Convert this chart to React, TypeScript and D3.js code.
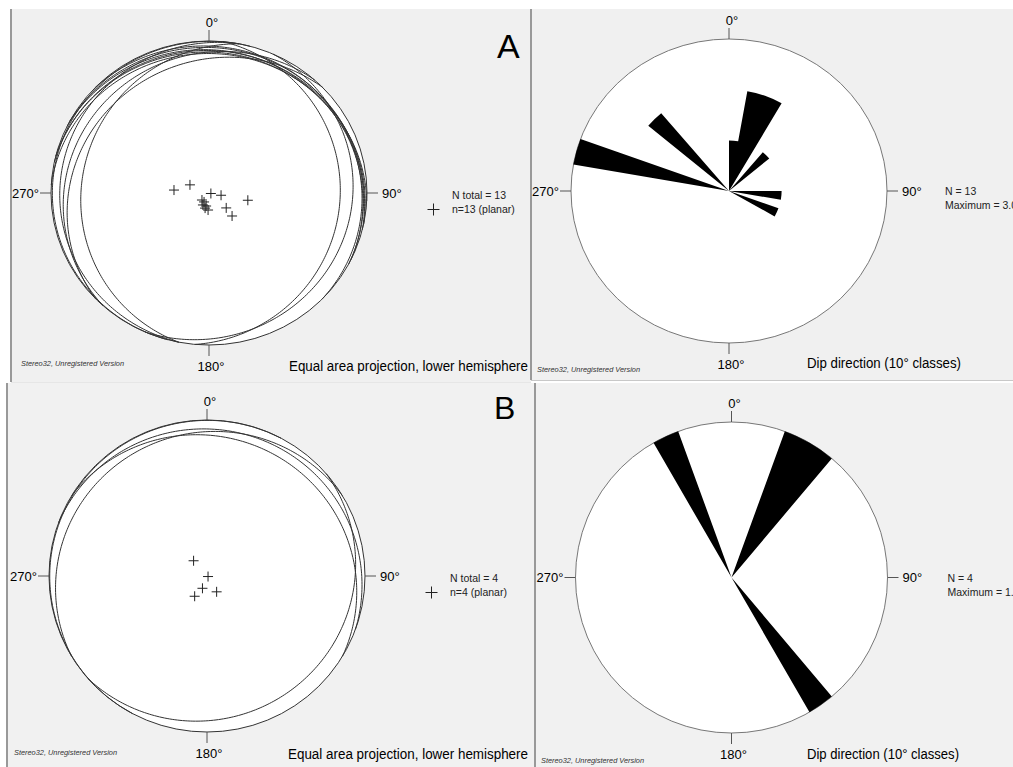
import * as d3 from 'd3'

// Set A: 13 planes, dip direction / dip in degrees
const dipDirA = [95, 114, 285, 281, 281, 44, 28, 26, 12, 14, 3, 312, 316]
const dipA = [18.1, 10.7, 1.0, 6.3, 20.4, 5.2, 5.4, 7.1, 7.1, 8.3, 9.1, 11.9, 17.1]

// Set B
const dipDirB = [139, 20, 31, 329, 298]
const dipB = [10.5, 6.8, 12.3, 9.6, 0.6]

// rose diagrams: start of each 10° class and its count
const roseClassA = [0, 10, 20, 40, 90, 110, 280, 310]
const roseCountA = [1, 2, 2, 1, 1, 1, 3, 2]
const roseMaxA = 3
const roseClassB = [20, 30, 140, 330]
const roseCountB = [1, 1, 1, 1]
const roseMaxB = 1

const compassLabels = ['0°', '90°', '180°', '270°']

const FONT = "'Liberation Sans', Arial, sans-serif"
const rad = Math.PI / 180

// equal area, lower hemisphere, unit primitive
function project(trend: number, plunge: number): [number, number] {
  const r = Math.SQRT2 * Math.sin(((90 - plunge) * rad) / 2)
  return [r * Math.sin(trend * rad), r * Math.cos(trend * rad)]
}

function greatCircle(dd: number, dip: number): [number, number][] {
  const s = (dd - 90) * rad
  const sv = [Math.sin(s), Math.cos(s), 0]
  const dv = [Math.cos(dip * rad) * Math.sin(dd * rad), Math.cos(dip * rad) * Math.cos(dd * rad), Math.sin(dip * rad)]
  return d3.range(0, 180.5, 1).map(a => {
    const c = Math.cos(a * rad), sn = Math.sin(a * rad)
    const e = c * sv[0] + sn * dv[0]
    const n = c * sv[1] + sn * dv[1]
    const d = c * sv[2] + sn * dv[2]
    const plunge = Math.asin(Math.max(-1, Math.min(1, d))) / rad
    const trend = Math.atan2(e, n) / rad
    return project(trend, plunge)
  })
}

interface FrameProps { cx: number; cy: number; rx: number; ry: number; stroke: string }

function Compass({ cx, cy, rx, ry, stroke }: FrameProps) {
  const t = 11
  return (
    <g fontFamily={FONT} fontSize={13} fill="#000">
      <ellipse cx={cx} cy={cy} rx={rx} ry={ry} fill="#fff" stroke={stroke} strokeWidth={1} />
      <g stroke="#555" strokeWidth={1}>
        <line x1={cx} x2={cx} y1={cy - ry - t} y2={cy - ry} />
        <line x1={cx} x2={cx} y1={cy + ry} y2={cy + ry + t} />
        <line x1={cx - rx - t} x2={cx - rx} y1={cy} y2={cy} />
        <line x1={cx + rx} x2={cx + rx + t} y1={cy} y2={cy} />
      </g>
      <text x={cx + 3} y={cy - ry - 14} textAnchor="middle">{compassLabels[0]}</text>
      <text x={cx + rx + t + 4} y={cy + 4.5}>{compassLabels[1]}</text>
      <text x={cx + 2} y={cy + ry + 26} textAnchor="middle">{compassLabels[2]}</text>
      <text x={cx - rx - t - 1} y={cy + 4.5} textAnchor="end">{compassLabels[3]}</text>
    </g>
  )
}

function Cross({ x, y, s = 5 }: { x: number; y: number; s?: number }) {
  return (
    <g stroke="#222" strokeWidth={1}>
      <line x1={x - s} x2={x + s} y1={y} y2={y} />
      <line x1={x} x2={x} y1={y - s} y2={y + s} />
    </g>
  )
}

interface StereoProps extends FrameProps { dipDir: number[]; dip: number[]; total: number }

function Stereonet({ cx, cy, rx, ry, dipDir, dip, total }: StereoProps) {
  const x = d3.scaleLinear().domain([-1, 1]).range([cx - rx, cx + rx])
  const y = d3.scaleLinear().domain([-1, 1]).range([cy + ry, cy - ry])
  const line = d3.line<[number, number]>().x(d => x(d[0])).y(d => y(d[1]))
  const poles = dipDir.map((dd, i) => project((dd + 180) % 360, 90 - dip[i]))
  return (
    <g>
      <Compass cx={cx} cy={cy} rx={rx} ry={ry} stroke="#333" />
      {dipDir.map((dd, i) => (
        <path key={i} d={line(greatCircle(dd, dip[i])) ?? ''} fill="none" stroke="#333" strokeWidth={1} />
      ))}
      {poles.map((p, i) => <Cross key={i} x={x(p[0])} y={y(p[1])} />)}
      <Cross x={cx + 224.5} y={cy + 16.5} s={6} />
      <g fontFamily={FONT} fontSize={10.5} fill="#222">
        <text x={cx + 243} y={cy + 5.5}>{`N total = ${total}`}</text>
        <text x={cx + 243} y={cy + 20}>{`n=${total} (planar)`}</text>
      </g>
    </g>
  )
}

interface RoseProps extends FrameProps { classes: number[]; counts: number[]; max: number }

function Rose({ cx, cy, rx, ry, classes, counts, max }: RoseProps) {
  const r = d3.scaleLinear().domain([0, max]).range([0, 1])
  const arc = d3.arc<number>()
    .innerRadius(0)
    .outerRadius(i => r(counts[i]))
    .startAngle(i => classes[i] * rad)
    .endAngle(i => (classes[i] + 10) * rad)
  // one path so neighbouring classes join without a seam
  const petals = classes.map((_, i) => arc(i) ?? '').join(' ')
  return (
    <g>
      <Compass cx={cx} cy={cy} rx={rx} ry={ry} stroke="#777" />
      <g transform={`translate(${cx},${cy}) scale(${rx},${ry})`}>
        <path d={petals} fill="#000" />
      </g>
      <g fontFamily={FONT} fontSize={10.5} fill="#222">
        <text x={cx + 216} y={cy + 4}>{`N = ${d3.sum(counts)}`}</text>
        <text x={cx + 216} y={cy + 18}>{`Maximum = ${max.toFixed(1)}`}</text>
      </g>
    </g>
  )
}

function Footer({ x0, y, mainX, mainText, mainLen, wy }: { x0: number; y: number; mainX: number; mainText: string; mainLen: number; wy: number }) {
  return (
    <g fontFamily={FONT}>
      <text x={x0} y={wy} fontSize={7.5} fontStyle="italic" fill="#333" textLength={103} lengthAdjust="spacingAndGlyphs">
        Stereo32, Unregistered Version
      </text>
      <text x={mainX} y={y} fontSize={14} fill="#000" textLength={mainLen} lengthAdjust="spacingAndGlyphs">
        {mainText}
      </text>
    </g>
  )
}

export default function App() {
  return (
    <svg width={1013} height={767} style={{ position: 'absolute', left: 0, top: 0 }}>
      <rect width={1013} height={767} fill="#fff" />
      {/* panels */}
      <rect x={11} y={9} width={520} height={373} fill="#f0f0f0" />
      <rect x={531} y={9} width={482} height={371} fill="#f0f0f0" />
      <rect x={7} y={383} width={528} height={384} fill="#f1f1f1" />
      <rect x={535} y={383} width={478} height={384} fill="#f1f1f1" />
      <g stroke="#999" strokeWidth={2}>
        <line x1={11} x2={11} y1={9} y2={382} />
        <line x1={531} x2={531} y1={9} y2={380} />
        <line x1={7} x2={7} y1={383} y2={767} />
        <line x1={535} x2={535} y1={383} y2={767} />
      </g>
      <line x1={531} x2={1013} y1={380.5} y2={380.5} stroke="#c8c8c8" />
      <line x1={11} x2={531} y1={382.5} y2={382.5} stroke="#e6e6e6" />

      <Stereonet cx={209} cy={193} rx={158} ry={152} dipDir={dipDirA} dip={dipA} total={13} stroke="#333" />
      <Rose cx={729} cy={191} rx={158} ry={152} classes={roseClassA} counts={roseCountA} max={roseMaxA} stroke="#777" />
      <Stereonet cx={207} cy={576} rx={158} ry={156} dipDir={dipDirB} dip={dipB} total={4} stroke="#333" />
      <Rose cx={731.5} cy={577.5} rx={156} ry={155.5} classes={roseClassB} counts={roseCountB} max={roseMaxB} stroke="#777" />

      <text x={497} y={58} fontFamily={FONT} fontSize={34} fill="#000">A</text>
      <text x={494} y={419} fontFamily={FONT} fontSize={32} fill="#000">B</text>

      <Footer x0={21} wy={366} y={371} mainX={289} mainLen={239} mainText="Equal area projection, lower hemisphere" />
      <Footer x0={537} wy={372} y={368} mainX={807} mainLen={154} mainText="Dip direction (10° classes)" />
      <Footer x0={14} wy={755} y={759} mainX={288} mainLen={240} mainText="Equal area projection, lower hemisphere" />
      <Footer x0={541} wy={763} y={759} mainX={807} mainLen={152} mainText="Dip direction (10° classes)" />
    </svg>
  )
}
